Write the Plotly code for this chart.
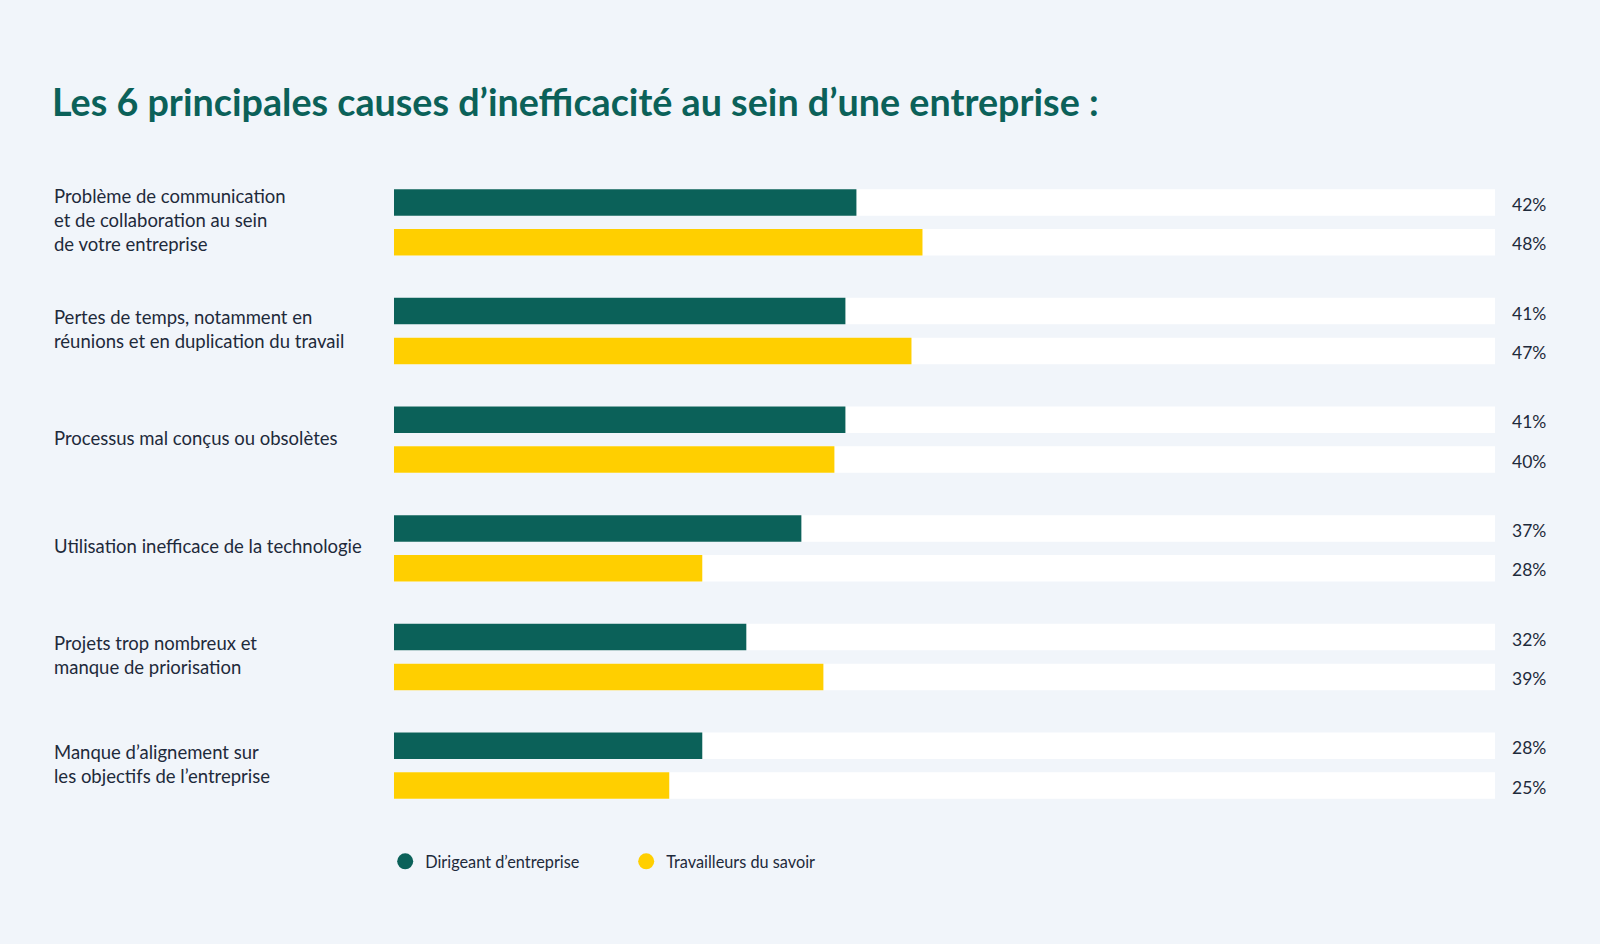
import plotly.graph_objects as go

causes = [
    "Problème de communication<br>et de collaboration au sein<br>de votre entreprise",
    "Pertes de temps, notamment en<br>réunions et en duplication du travail",
    "Processus mal conçus ou obsolètes",
    "Utilisation inefficace de la technologie",
    "Projets trop nombreux et<br>manque de priorisation",
    "Manque d’alignement sur<br>les objectifs de l’entreprise",
]
dirigeants = [42, 41, 41, 37, 32, 28]
travailleurs = [48, 47, 40, 28, 39, 25]
series_names = ["Dirigeant d’entreprise", "Travailleurs du savoir"]

GREEN = "#0b6159"
YELLOW = "#ffcf00"
BG = "#f1f5fa"
TEXT = "#1e2a3b"
FONT = "Lato"

ids = list(range(len(causes)))
full = [100] * len(causes)

fig = go.Figure()

# white tracks, then the values on top
for off in (-0.305, 0.061):
    fig.add_trace(go.Bar(x=full, y=ids, orientation="h", width=0.244, offset=off,
                         marker=dict(color="white", line_width=0), showlegend=False,
                         hoverinfo="skip"))

for vals, col, off in ((dirigeants, GREEN, -0.305), (travailleurs, YELLOW, 0.061)):
    fig.add_trace(go.Bar(x=vals, y=ids, orientation="h", width=0.244, offset=off,
                         marker=dict(color=col, line_width=0), showlegend=False))

# legend entries as circles
for name, col in zip(series_names, (GREEN, YELLOW)):
    fig.add_trace(go.Scatter(x=[None], y=[None], mode="markers", name=name,
                             marker=dict(color=col, size=18, symbol="circle")))

# value labels at the right of the tracks
for i in ids:
    for v, dy in ((dirigeants[i], 18), (travailleurs[i], -21.5)):
        fig.add_annotation(x=100, y=i, text=f"{v}%", xanchor="left", xshift=15,
                           yshift=dy, showarrow=False,
                           font=dict(family=FONT, size=17.5, color=TEXT))
    # category label on the left
    fig.add_annotation(x=-0.3106, xref="paper", y=i, text=causes[i], xanchor="left",
                       align="left", showarrow=False, yshift=2,
                       font=dict(family=FONT, size=18.5, color=TEXT))

fig.update_layout(
    width=1600, height=944,
    paper_bgcolor=BG, plot_bgcolor=BG,
    barmode="overlay",
    margin=dict(l=394, r=105, t=168, b=124),
    title=dict(text="<b>Les 6 principales causes d’inefficacité au sein d’une entreprise :</b>",
               x=52 / 1600, xanchor="left", xref="container",
               y=1 - 103 / 944, yanchor="middle",
               font=dict(family=FONT, size=37.7, color=GREEN)),
    xaxis=dict(range=[0, 100], visible=False, fixedrange=True),
    yaxis=dict(range=[5.5, -0.5], visible=False, fixedrange=True),
    legend=dict(orientation="h", x=-0.008, xanchor="left", y=-0.064, yanchor="middle",
                font=dict(family=FONT, size=16.3, color=TEXT), entrywidth=196,
                bgcolor="rgba(0,0,0,0)", itemsizing="trace"),
    showlegend=True,
)

fig.write_html("out.html", config={"displayModeBar": False},
               post_script="document.body.style.margin='0';"
                           "document.body.style.background='" + BG + "';")
